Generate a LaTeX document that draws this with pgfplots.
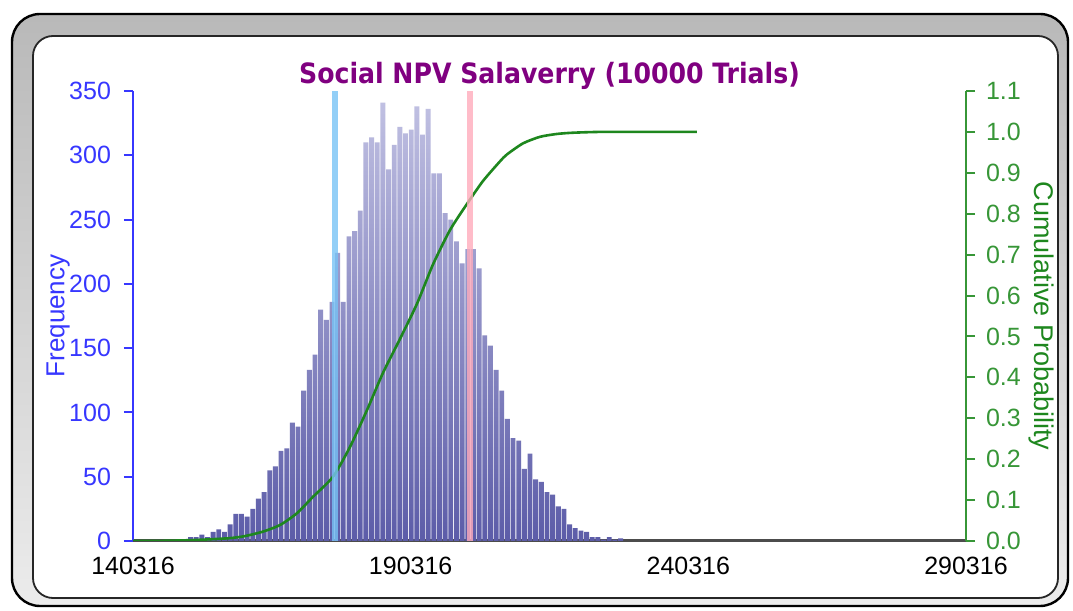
\documentclass[border=0pt]{standalone}
\usepackage{pgfplots}
\pgfplotsset{compat=1.18}
\usepackage{fontspec}
\setmainfont{Liberation Sans}
\newfontfamily\titlefont{DejaVu Sans Condensed}
\definecolor{freqblue}{RGB}{55,55,255}
\definecolor{cumgreen}{RGB}{30,135,30}
\definecolor{labgreen}{RGB}{55,150,55}
\definecolor{titlepurple}{RGB}{128,0,128}
\definecolor{bartop}{RGB}{192,192,226}
\definecolor{barbot}{RGB}{92,92,168}
\definecolor{vblue}{RGB}{120,195,245}
\definecolor{vpink}{RGB}{255,172,188}
\begin{document}
\begin{tikzpicture}
\useasboundingbox (0,0) rectangle (536.5pt,305.5pt);
\draw[rounded corners=14pt, top color=gray!55, bottom color=gray!15, draw=black, line width=1.2pt] (6pt,2.5pt) rectangle (534pt,298.5pt);
\draw[rounded corners=10pt, fill=white, draw=black!85, line width=0.9pt] (16.5pt,6.5pt) rectangle (529pt,287.5pt);
\begin{axis}[
 at={(66.5pt,35pt)}, anchor=south west, scale only axis,
 width=416.5pt, height=225pt,
 xmin=140316, xmax=290316, ymin=0, ymax=350,
 axis y line*=left, axis x line*=bottom,
 xtick={140316,190316,240316,290316},
 xticklabels={140316,190316,240316,290316},
 scaled x ticks=false,
 xtick style={draw=none},
 ytick={0,50,100,150,200,250,300,350},
 tick align=outside, major tick length=4.5pt,
 y axis line style={freqblue, line width=1pt},
 ytick style={freqblue, line width=1pt},
 x axis line style={black!70, line width=1.5pt},
 yticklabel style={text=freqblue, font=\fontsize{12.5}{14}\selectfont, xshift=-3pt},
 xticklabel style={text=black, font=\fontsize{12.5}{14}\selectfont},
 /pgf/number format/assume math mode=true,
 ylabel={Frequency},
 every axis y label/.style={at={(axis description cs:-0.09,0.5)}, rotate=90, anchor=center, font=\fontsize{13}{14}\selectfont, text=freqblue},
 title={\titlefont\bfseries Social NPV Salaverry (10000 Trials)},
 title style={at={(axis description cs:0.5,1)}, anchor=south, inner sep=0pt, yshift=-5.5pt, text=titlepurple, font=\fontsize{14}{16}\selectfont},
]
\addplot[ybar, bar width=880, bar shift=0pt, draw=none, top color=bartop, bottom color=barbot] coordinates {
(148632,1) (149651,1) (150670,3) (151689,3) (152708,5) (153727,3) (154746,7) (155765,9) (156784,7) (157803,13)
(158822,21) (159841,21) (160860,19) (161879,25) (162898,33) (163917,38) (164936,55) (165955,58) (166974,70) (167993,72)
(169012,92) (170031,89) (171050,117) (172069,133) (173088,145) (174107,180) (175126,172) (176145,186) (177164,224) (178183,186)
(179202,237) (180221,241) (181240,257) (182259,310) (183278,314) (184297,310) (185316,341) (186335,289) (187354,308) (188373,322)
(189392,317) (190411,320) (191430,338) (192449,316) (193468,336) (194487,286) (195506,286) (196525,255) (197544,250) (198563,233)
(199582,216) (200601,227) (201620,227) (202639,212) (203658,160) (204677,152) (205696,133) (206715,117) (207734,95) (208753,80)
(209772,78) (210791,56) (211810,68) (212829,48) (213848,46) (214867,38) (215886,36) (216905,27) (217924,25) (218943,13)
(219962,10) (220981,8) (222000,7) (223019,3) (224038,3) (225057,1) (226076,3) (227095,1) (228114,2)
};
\end{axis}
\begin{axis}[
 at={(66.5pt,35pt)}, anchor=south west, scale only axis,
 width=416.5pt, height=225pt,
 xmin=140316, xmax=290316, ymin=0, ymax=1.1,
 axis y line*=right, axis x line=none,
 ytick={0,0.1,0.2,0.3,0.4,0.5,0.6,0.7,0.8,0.9,1.0,1.1},
 tick align=outside, major tick length=4.5pt,
 y axis line style={labgreen, line width=1pt},
 ytick style={labgreen, line width=1pt},
 /pgf/number format/assume math mode=true,
 yticklabel style={text=labgreen, font=\fontsize{12.5}{14}\selectfont, xshift=2pt, /pgf/number format/fixed, /pgf/number format/fixed zerofill, /pgf/number format/precision=1},
 ylabel={Cumulative Probability},
 every axis y label/.style={at={(axis description cs:1.091,0.5)}, rotate=-90, anchor=center, font=\fontsize{13.5}{14}\selectfont, text=cumgreen},
]
\addplot[cumgreen, line width=1.3pt, smooth, tension=0.4] coordinates {
(140316,0) (146000,0.0005) (150580,0.002) (154000,0.004) (157783,0.007) (160484,0.012) (163725,0.023) (166786,0.039) (169847,0.068) (172729,0.108) (176330,0.157) (179391,0.230) (182452,0.320) (185334,0.411) (188395,0.494) (191456,0.580) (194337,0.676) (197398,0.760) (200459,0.824) (203341,0.880) (206402,0.928) (207663,0.945) (210544,0.972) (213605,0.988) (216666,0.995) (219547,0.998) (224409,1.0) (231612,1.0) (241876,1.0)
};
\addplot[vblue, opacity=0.8, line width=3.3pt] coordinates {(176690,0) (176690,1.1)};
\addplot[vpink, opacity=0.8, line width=3.3pt] coordinates {(201000,0) (201000,1.1)};
\end{axis}
\end{tikzpicture}
\end{document}
